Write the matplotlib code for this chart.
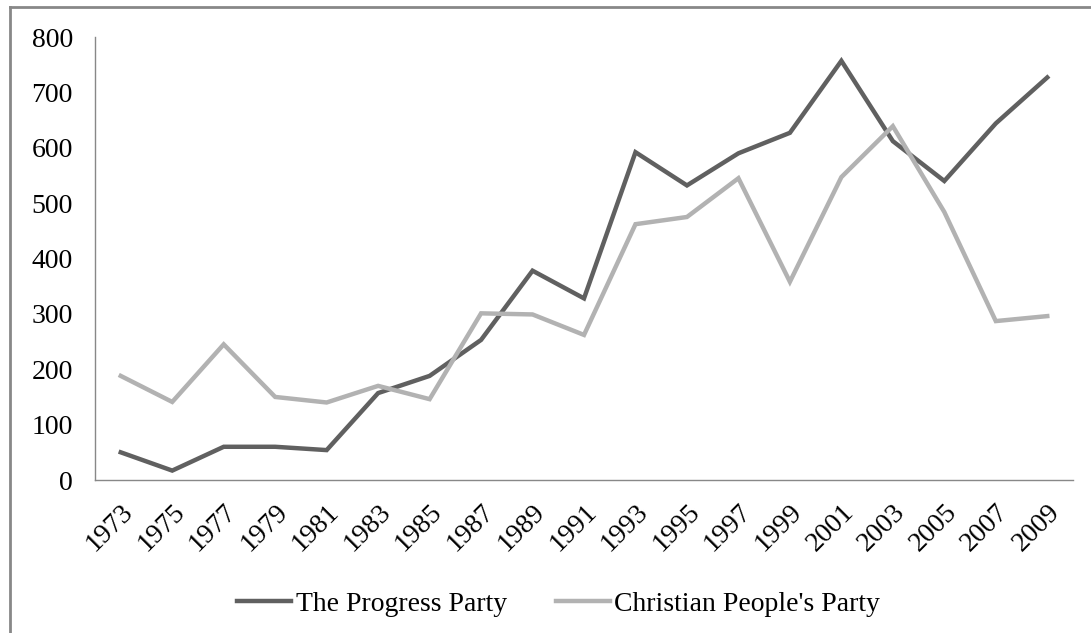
import matplotlib
matplotlib.use("Agg")
import matplotlib.pyplot as plt

years = [str(y) for y in range(1973, 2010, 2)]
progress = [50, 17, 60, 60, 54, 157, 188, 253, 378, 328, 592, 532, 590, 627, 757, 612, 540, 644, 727]
christian = [188, 141, 245, 150, 140, 170, 146, 301, 299, 262, 462, 475, 545, 358, 547, 639, 484, 287, 296]
yticks = [0, 100, 200, 300, 400, 500, 600, 700, 800]

plt.rcParams['font.family'] = ['Liberation Serif', 'DejaVu Serif']

fig = plt.figure(figsize=(10.91, 6.33), dpi=100)
ax = fig.add_axes([0.0871, 0.2417, 0.8964, 0.6998])

x = list(range(len(years)))
ax.plot(x, progress, color='#606060', lw=3.2, label='The Progress Party', solid_joinstyle='miter')
ax.plot(x, christian, color='#b2b2b2', lw=3.2, label="Christian People's Party", solid_joinstyle='miter')

ax.set_xlim(-0.5, len(years) - 0.5)
ax.set_ylim(0, 800)
ax.set_yticks(yticks)
ax.set_yticklabels([str(v) for v in yticks], fontsize=20)
ax.set_xticks(x)
ax.set_xticklabels(years, rotation=45, ha='right', rotation_mode='anchor', fontsize=20)
ax.tick_params(axis='x', length=0, pad=14)
ax.tick_params(axis='y', length=0, pad=16)

for s in ['top', 'right']:
    ax.spines[s].set_visible(False)
for s in ['left', 'bottom']:
    ax.spines[s].set_color('#888888')
    ax.spines[s].set_linewidth(1.0)

leg = fig.legend(loc='center', bbox_to_anchor=(0.512, 0.046), ncol=2, frameon=False,
                 fontsize=20, handlelength=1.95, handletextpad=0.15, columnspacing=1.76)

# outer chart-area border (top and left visible)
fig.add_artist(plt.Line2D([0.0092, 1.0], [1 - 7/633, 1 - 7/633], transform=fig.transFigure,
                          color='#888888', lw=2))
fig.add_artist(plt.Line2D([0.0092, 0.0092], [0.0, 1 - 7/633], transform=fig.transFigure,
                          color='#888888', lw=2))

fig.savefig('out.png', dpi=100)
